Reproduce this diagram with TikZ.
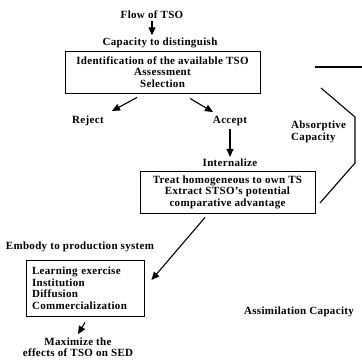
\documentclass[tikz,border=0pt]{standalone}
\usepackage{fontspec}
\setmainfont{Liberation Serif}[LetterSpace=3]
\usetikzlibrary{arrows.meta,calc}
\begin{document}
\begin{tikzpicture}[x=1pt,y=-1pt,
  txt/.style={font=\bfseries\fontsize{11}{11.5}\selectfont, inner sep=0pt, align=center},
  box/.style={draw, line width=0.9pt, txt},
  arr/.style={-{Triangle[length=8pt,width=7pt]}, line width=1.1pt},
  ln/.style={line width=1.1pt}]
\useasboundingbox[fill=white] (0,0) rectangle (362,360);
\node[txt] (flow) at (152,15) {Flow of TSO};
\node[txt] (cap) at (160,43) {Capacity to distinguish};
\node[box, minimum width=195pt, minimum height=42pt] (b1) at (162.5,72)
  {Identification of the available TSO\\Assessment\\Selection};
\node[txt] (rej) at (88,121) {Reject};
\node[txt] (acc) at (230,121) {Accept};
\node[txt] (int) at (230,163) {Internalize};
\node[box, minimum width=175pt, minimum height=42pt] (b2) at (227.5,192)
  {Treat homogeneous to own TS\\Extract STSO's potential\\comparative advantage};
\node[txt] (emb) at (80,247) {Embody to production system};
\node[box, align=left, text width=106pt, inner xsep=6pt, minimum height=56pt] (b3) at (85,288)
  {Learning exercise\\Institution\\Diffusion\\Commercialization};
\node[txt] (max) at (78,347) {Maximize the\\effects of TSO on SED};
\node[txt, align=left, anchor=west] (abs) at (291,132) {Absorptive\\Capacity};
\node[txt] (asm) at (299,312) {Assimilation Capacity};
\coordinate (h1) at (315,67);
\coordinate (h2) at (362,67);
\draw[arr] ([yshift=-2pt]flow.south) -- ([yshift=2.5pt]flow.south |- cap.north);
\draw[arr] ($(b1.south)+(-25.5,4)$) -- ($(rej.center)+(24,-10)$);
\draw[arr] ($(b1.south)+(27.5,5)$) -- ($(acc.center)+(-17,-9)$);
\draw[arr] ([yshift=-3pt]acc.south) -- ([yshift=2pt]int.north);
\draw[arr] ($(b2.south)+(-22.5,4)$) -- ($(b3.east)+(7,-8)$);
\draw[arr] ([yshift=-6pt]b3.south) -- ([yshift=3pt]max.north);
\draw[ln] (h1) -- (h2);
\draw[ln] (321,88) -- (355,117) -- (355,163) -- (320,203);
\end{tikzpicture}
\end{document}
